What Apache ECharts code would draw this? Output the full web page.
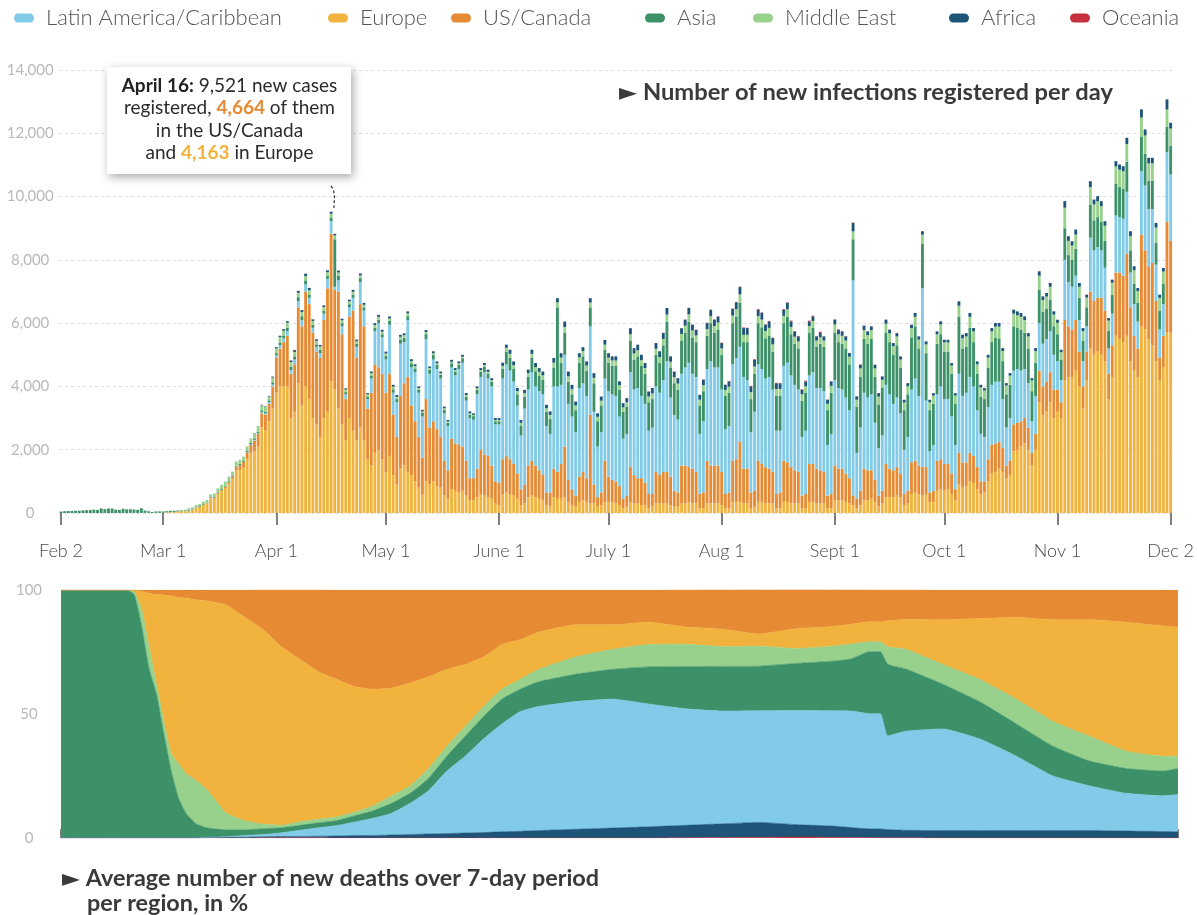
<!DOCTYPE html>
<html><head><meta charset="utf-8">
<script src="https://cdn.jsdelivr.net/npm/echarts@6/dist/echarts.min.js"></script>
<style>html,body{margin:0;padding:0;background:#fff}#c{width:1197px;height:915px}</style>
</head><body><div id="c"></div>
<script>
// ---------- axis ticks ----------
const tickIdx = [0,28,59,89,120,150,181,212,242,273,304];
const tickLabels = ['Feb 2','Mar 1','Apr 1','May 1','June 1','July 1','Aug 1','Sept 1','Oct 1','Nov 1','Dec 2'];

// ---------- daily new deaths per region (Feb 2 .. Dec 2), one line per month ----------
const europe = [
0,0,0,0,0,0,0,0,0,0,0,0,0,0,0,0,0,0,0,1,2,1,2,5,4,1,5,4,
6,20,26,28,45,50,55,75,110,175,190,255,300,460,470,600,700,790,920,1080,1340,1360,1430,1700,1880,1950,2100,2700,2600,2900,3300,
3800,4000,4000,4000,3000,3200,4100,3400,4000,3600,3000,2800,2400,3000,3200,4163,3900,3300,2800,2300,3000,2600,2300,2700,2300,1700,1500,1900,2000,1700,
1300,1800,1200,900,1400,1500,1300,1200,1000,800,600,1000,900,1000,850,800,550,450,750,700,650,700,550,400,400,500,600,550,500,450,300,
250,600,650,600,550,450,250,300,500,550,500,450,400,250,200,500,450,450,500,350,250,200,350,400,350,300,300,200,250,350,
350,350,300,250,150,200,350,300,300,250,250,150,200,300,300,300,300,250,200,200,300,300,350,300,300,150,150,300,300,300,300,
250,150,150,350,350,350,300,300,150,200,350,350,300,300,300,150,150,350,350,300,300,300,150,150,350,350,300,300,300,150,150,
400,400,400,350,300,250,150,250,400,400,450,350,200,300,500,500,500,550,500,250,300,600,650,600,550,600,350,350,700,750,
700,750,600,400,900,800,850,1000,950,750,600,650,1000,1250,1300,1400,1300,1100,1200,1950,2000,2100,2200,2000,1500,2000,3500,3100,3200,3500,3000,
3200,3000,4200,4300,4300,4500,4000,3300,4200,5200,5000,5100,5000,4800,3600,4300,5600,5500,5400,5600,4800,4500,4300,5900,5800,5500,5300,4800,4200,4600,5700,5700];
const usCanada = [
0,0,0,0,0,0,0,0,0,0,0,0,0,0,0,0,0,0,0,0,0,0,0,0,0,0,0,0,
0,5,0,6,4,3,3,2,2,4,7,10,10,13,17,26,30,33,56,77,100,150,180,220,270,340,400,450,510,550,700,
1100,1200,1400,1600,1400,1500,2400,2500,3000,3000,2700,2300,2500,3100,3900,4664,3150,3700,2850,1300,3200,3800,2600,3900,3600,1600,2300,2800,2600,2700,
2500,2600,1900,1500,2300,2600,3000,2200,1900,1600,1150,2600,1800,1900,1800,1600,1100,900,1600,1500,1500,1400,1100,700,700,900,1400,1300,1300,1050,700,
700,1100,1150,1100,1000,800,500,600,1000,1100,1000,900,800,400,450,900,850,1100,1600,700,500,350,800,900,750,2800,600,300,400,1300,
800,700,700,600,300,350,1100,900,800,850,700,450,400,1000,900,1000,1000,900,500,450,1200,1200,1100,1100,1000,450,500,1350,1200,1200,1200,
1050,450,500,1300,1350,1900,1100,1100,500,500,1300,1200,1150,1100,1000,450,500,1300,1250,1150,1050,1000,400,450,1200,1200,1100,1050,1000,400,450,
1100,1000,1000,900,800,300,300,450,1000,950,900,700,350,400,1050,900,850,900,750,350,400,1000,1000,900,900,850,300,350,950,950,
850,800,650,350,1000,800,750,900,850,700,400,350,700,900,900,850,750,400,450,850,850,800,800,700,400,500,1000,900,950,950,900,
700,500,1900,1600,1500,1600,1100,700,900,1800,1700,1700,1800,1600,800,1000,2000,2100,2100,2600,1700,1100,900,2900,2500,2300,2600,1900,700,1000,3500,2900];
const latinAmerica = [
0,0,0,0,0,0,0,0,0,0,0,0,0,0,0,0,0,0,0,0,0,0,0,0,0,0,0,0,
0,0,0,0,0,0,0,0,0,0,0,0,0,0,0,0,0,0,0,0,0,0,5,10,15,20,20,35,35,50,60,
80,110,120,150,120,150,200,200,220,200,150,150,150,200,300,400,100,350,250,150,300,400,350,700,500,300,450,1050,1400,1150,
1050,1550,700,1100,1650,1300,1800,1200,1550,1400,1300,1900,1700,1950,1900,1850,1500,1400,2250,2150,2400,2650,1900,1900,1850,2350,2300,2600,2450,2500,1800,
1850,2550,2900,2800,2600,2150,1700,2400,2400,2800,2500,2500,2550,2100,1850,2600,2700,2500,2900,2400,2300,2000,2800,2800,2600,2800,2300,1600,1900,2600,
2700,2700,2700,2200,1900,1950,3000,2700,2850,2600,2500,2000,2100,2700,2600,2900,3500,2500,2400,2300,2900,3100,3300,3000,3000,1900,2250,2900,3300,3100,3100,
2600,2050,2100,3050,3200,3000,2900,2800,1900,2500,3050,3000,2800,2900,2600,2000,1950,3000,3150,2900,2700,2600,1850,2000,2800,2900,2550,2600,2550,1600,1900,
2700,2550,2500,2400,2150,6800,1450,2000,2400,2300,2400,1800,1500,1750,2500,2350,2100,2200,1900,1400,1700,2300,2600,2200,5650,2100,1300,1450,2100,2300,
2050,2050,1800,1400,2500,2100,2200,2400,2200,1800,1500,1400,1650,1900,1950,1900,1550,1200,1350,1700,1700,1600,1550,1400,1000,1200,1500,1350,1350,1300,1100,
900,700,1900,1400,1350,1400,1000,800,800,1700,1600,1600,1500,1350,800,1000,1800,1750,1800,1950,1100,1000,850,2000,2050,1800,1700,1150,900,1000,2200,2100];
const asia = [
45,57,64,65,73,73,86,89,97,108,97,146,121,143,142,105,98,136,114,118,109,98,150,71,52,29,44,47,
42,33,38,31,30,28,27,30,25,22,25,20,15,20,20,25,25,20,25,30,35,40,40,45,50,50,50,60,55,60,70,
70,80,90,100,100,100,120,120,130,100,100,80,100,100,100,110,1500,150,100,70,100,100,100,120,100,80,90,100,110,100,
110,120,110,100,130,140,120,130,120,100,110,150,130,140,130,120,110,100,130,120,130,140,130,110,110,140,160,170,160,150,100,
100,300,400,400,400,350,300,380,400,450,480,480,470,450,480,600,2500,700,700,700,700,700,800,850,800,600,900,800,850,900,
900,900,950,850,850,850,1000,950,1000,950,950,900,900,1000,950,1100,1250,950,1000,950,1050,1100,1300,1150,1100,900,950,1050,1200,1100,1200,
1100,1050,1050,1300,1300,1400,1100,1200,1050,1200,1300,1320,1270,1300,1200,1100,1100,1350,1450,1300,1300,1300,1150,1200,1350,1400,1300,1400,1400,1100,1300,
1500,1450,1450,1550,1450,1300,1450,1600,1700,1700,1750,1450,1380,1500,1650,1650,1550,1650,1450,1250,1350,1650,1650,1500,1400,1500,1300,1300,1600,1650,
1500,1500,1350,1300,1800,1500,1450,1550,1400,1150,1180,1200,1250,1350,1380,1370,1200,1050,1050,1400,1300,1300,1150,1100,950,1050,1050,1000,950,1000,900,
850,650,1000,850,850,850,700,650,600,1050,950,950,900,850,550,600,1000,950,950,950,700,650,600,1100,1000,900,900,700,600,650,800,900];
const middleEast = [
0,0,0,0,0,0,0,0,0,0,0,0,0,0,0,0,0,2,2,4,4,3,4,4,3,4,4,8,
12,12,11,15,15,17,21,45,43,54,63,75,85,97,113,129,135,147,149,123,150,130,130,125,145,150,150,160,150,120,150,
150,170,150,160,150,140,140,130,140,140,120,110,110,110,110,120,120,100,90,80,90,90,80,90,80,70,80,90,90,80,
80,80,80,70,90,80,90,70,70,50,50,70,50,60,50,50,50,40,50,50,50,50,50,40,40,50,60,60,50,50,40,
40,100,120,130,120,100,100,110,120,130,130,130,130,110,120,150,160,160,180,170,160,150,170,170,160,150,170,140,150,170,
160,170,170,140,140,150,200,190,190,180,180,180,180,190,180,200,220,180,190,190,210,220,230,220,210,180,190,210,220,210,220,
200,190,190,240,240,260,230,230,220,230,220,240,230,250,230,220,220,230,240,230,220,220,200,210,210,220,200,200,200,200,220,
260,250,250,250,240,250,230,270,280,270,280,270,250,260,280,280,270,280,250,240,260,290,300,280,300,280,250,260,300,310,
290,290,260,260,350,320,330,350,340,300,290,270,310,340,360,370,320,280,290,400,400,400,400,380,340,370,450,380,390,400,370,
360,230,650,450,450,450,350,300,310,550,500,500,500,480,330,380,550,550,550,560,450,420,360,600,580,550,550,470,400,380,550,550];
const africa = [
0,0,0,0,0,0,0,0,0,0,0,0,0,0,0,0,0,0,0,0,0,0,0,0,0,0,0,0,
0,0,0,0,0,0,0,0,0,0,0,0,0,0,0,0,0,0,0,0,0,0,0,0,0,10,10,15,15,20,30,
40,40,50,50,50,60,60,60,70,70,50,50,50,50,60,64,50,60,50,40,50,60,50,60,60,40,50,60,60,60,
60,60,60,60,60,60,60,60,60,50,50,60,50,60,60,50,50,50,60,60,60,60,60,60,50,60,60,60,70,60,60,
60,100,100,130,120,100,90,100,110,130,130,120,120,110,110,150,130,140,170,150,140,120,130,120,130,140,150,110,130,150,
140,130,130,120,130,130,190,170,180,170,160,160,170,180,180,190,210,170,180,170,180,190,200,180,180,150,170,190,200,200,190,
170,160,170,210,220,230,215,215,180,210,205,210,200,206,200,180,180,195,196,176,169,161,143,147,146,144,131,136,131,127,137,
148,142,139,131,113,268,102,114,138,119,117,114,107,105,128,112,100,106,98,87,94,110,120,101,104,93,77,77,89,96,
85,85,77,77,139,114,106,120,105,90,81,76,90,105,113,113,91,74,80,125,122,120,114,106,72,91,138,117,112,119,102,
98,79,204,146,138,157,119,95,90,187,156,162,154,141,81,95,170,164,161,198,154,127,101,255,192,175,175,148,100,114,321,183];
const oceania = [
0,0,0,0,0,0,0,0,0,0,0,0,0,0,0,0,0,0,0,0,0,0,0,0,0,0,0,0,
1,0,0,0,0,0,0,1,0,0,0,0,0,1,0,1,0,1,1,0,1,2,1,2,1,2,3,1,3,2,1,
2,3,4,3,3,4,2,6,4,3,2,4,4,3,2,2,3,2,1,2,3,2,1,2,1,2,1,1,2,1,
0,1,1,0,1,0,1,0,1,0,0,1,0,0,0,0,1,0,0,0,0,0,1,0,0,0,0,0,0,1,0,
0,0,0,0,0,0,0,0,0,0,0,0,0,0,0,0,0,0,0,1,0,0,0,0,0,0,0,0,0,0,
0,0,0,0,0,1,0,2,0,1,1,1,2,2,3,4,2,1,1,5,3,5,6,8,4,8,10,13,6,9,6,
13,7,15,12,11,13,17,9,19,21,21,17,14,15,12,17,12,22,17,25,11,16,18,25,24,23,8,41,4,11,5,
12,11,9,11,6,10,7,12,7,6,3,5,5,7,5,6,4,4,2,2,2,2,4,2,1,3,1,1,2,1,
1,1,1,1,1,1,1,1,1,1,1,1,1,2,1,1,1,1,0,1,1,0,1,1,1,0,1,0,0,1,1,
0,0,1,0,1,0,0,0,1,0,0,0,1,0,0,0,0,0,0,0,0,0,0,1,0,0,0,0,0,0,0,0];

// ---------- share of 7-day average deaths (%), sampled on these day indices ----------
const shareDays = [0,10,18,20,22,24,26,28,30,32,34,37,40,45,50,55,60,65,70,75,80,85,90,95,100,105,110,115,120,125,130,140,150,160,170,180,190,200,210,215,220,223,225,230,240,250,260,270,280,290,300,304];
const shareOceania = [0,0,0,0,0,0,0,0,0,0,0,0,0,0,0,0.1,0.1,0.1,0.1,0,0,0,0,0,0,0,0,0,0,0,0,0,0,0,0.1,0.2,0.3,0.4,0.3,0.2,0.15,0.1,0.1,0.1,0,0,0,0,0,0,0,0];
const shareAfrica = [0,0,0,0,0,0,0,0,0,0,0,0,0.2,0.3,0.3,0.4,0.5,0.5,0.6,0.8,1,1,1.2,1.4,1.6,1.8,2,2.2,2.5,2.7,3,3.5,4,4.5,5,5.5,6,5,4.5,4,3.5,3.5,3.3,3,3,3,3,3,3,2.8,2.6,2.5];
const shareLatAm = [0,0,0,0,0,0,0,0,0,0,0,0,0.1,0.2,0.7,0.9,1.5,2.5,3.4,4.2,5.5,7,8.8,12.6,17.4,25.2,31,37.8,43.5,48.3,50,51.5,52,49.5,47,45.5,45,46,46.5,47,46.5,46.5,37.7,40,41,37,30,22,18,15.2,14.4,15];
const shareAsia = [100,100,100,98,85,68,58,42,27,16,10,5.5,3.7,2.8,2.3,2.3,2,2,2,2,2.5,3,4,4,5,6,8,9,10,9,10,11,12,15,17,18,18,19,20,21,25,25,29,25,18,15,13,12,10,10,10,10.5];
const shareMiddleEast = [0,0,0,1,7,9,4,5,7,14,16,17.5,15,6.7,3.7,1.9,1,1.5,1.5,1.5,1.5,2,3,3,4,4,4,4,4,4,5,7,8,9,9,8,8,6,6,6,4,4,7,8,8,9,10,10,10,7,6,5];
const shareEurope = [0,0,0,1,7.5,21.6,36.2,51,63.6,67,70.7,73,76.5,84,82,78.5,72,65.5,59.5,55.5,50.5,47,43.5,41.5,37,31,25,20,18,16,15,13,10,9,7,7,5,8,8,8,8,8,10.5,12,18,24.5,33,41,47,52,52.5,52];
const shareUS = [0,0,0,0,0.5,1.4,1.8,2,2.4,3,3.3,4,4.5,6,11,16,23,28,33,36,39,40,39.5,37.5,35,32,30,27,22,20,17,14,14,13,15,16,18,16,15,14,13,13,12.5,12,12,11.5,11,12,12,13,14.5,15];

// ---------- styling ----------
const FONT = 'Lato, "Noto Sans", "DejaVu Sans", sans-serif';
const COL = {
  'Latin America/Caribbean':'#82cbe8', 'Europe':'#f1b33d', 'US/Canada':'#e68a33',
  'Asia':'#3c9168', 'Middle East':'#97d18c', 'Africa':'#1e5478', 'Oceania':'#c5303f'
};
const legendOrder = ['Latin America/Caribbean','Europe','US/Canada','Asia','Middle East','Africa','Oceania'];
const legendLeft = [14,328,451,645,753,949,1070];
const barStack = [['Europe',europe],['US/Canada',usCanada],['Latin America/Caribbean',latinAmerica],['Asia',asia],['Middle East',middleEast],['Africa',africa],['Oceania',oceania]];
const areaStack = [['Oceania',shareOceania],['Africa',shareAfrica],['Latin America/Caribbean',shareLatAm],['Asia',shareAsia],['Middle East',shareMiddleEast],['Europe',shareEurope],['US/Canada',shareUS]];

const days = europe.map((_, i) => String(i));
const showTick = (i) => tickIdx.indexOf(i) >= 0;

const series = [];
barStack.forEach(([name, arr]) => {
  series.push({
    type:'bar', name, stack:'daily', xAxisIndex:0, yAxisIndex:0, data:arr,
    barWidth:2.85, itemStyle:{color:COL[name]}, emphasis:{disabled:true}, silent:true
  });
});
areaStack.forEach(([name, arr]) => {
  series.push({
    type:'line', name, stack:'share', xAxisIndex:1, yAxisIndex:1,
    data: shareDays.map((d, i) => [String(d), arr[i]]),
    symbol:'none', smooth:0.15, lineStyle:{width:0.6, color:COL[name]},
    areaStyle:{color:COL[name], opacity:1}, emphasis:{disabled:true}, silent:true
  });
});

const capsule = 'path://M4.5,0H15.5A4.5,4.5,0,0,1,15.5,9H4.5A4.5,4.5,0,0,1,4.5,0Z';
const legends = legendOrder.map((name, k) => ({
  data:[{name, icon:capsule, itemStyle:{color:COL[name]}}],
  left:legendLeft[k], top:7, padding:0, itemWidth:20, itemHeight:9,
  selectedMode:false,
  textStyle:{fontFamily:FONT, fontSize:22, color:'#555555', fontWeight:300, padding:[0,0,0,7]}
}));

const option = {
  animation:false,
  backgroundColor:'#ffffff',
  legend: legends,
  grid:[
    {left:59.2, right:17.2, top:70, bottom:402},
    {left:61, right:19, top:590, bottom:77}
  ],
  xAxis:[
    {type:'category', gridIndex:0, data:days, boundaryGap:true,
     axisLine:{show:false},
     axisTick:{show:true, alignWithLabel:true, interval:(i)=>showTick(i), length:12, lineStyle:{color:'#555', width:1.5}},
     axisLabel:{interval:(i)=>showTick(i), formatter:(v)=>tickLabels[tickIdx.indexOf(Number(v))] || '',
       margin:29, fontFamily:FONT, fontSize:18, color:'#4a4a4a', fontWeight:300},
     splitLine:{show:false}},
    {type:'category', gridIndex:1, data:days, boundaryGap:false, position:'top',
     axisLine:{show:false},
     axisTick:{show:true, interval:(i)=>showTick(i), length:9, lineStyle:{color:'#555', width:1.5}},
     axisLabel:{show:false}, splitLine:{show:false}}
  ],
  yAxis:[
    {type:'value', gridIndex:0, min:0, max:14000, interval:2000,
     axisLine:{show:false}, axisTick:{show:false},
     axisLabel:{formatter:(v)=>v.toLocaleString('en-US'), align:'center', margin:29,
       fontFamily:FONT, fontSize:15, color:'#b9b9b9'},
     splitLine:{show:true, lineStyle:{color:'#dcdcdc', type:[3,3], width:1}}},
    {type:'value', gridIndex:1, min:0, max:100, interval:50,
     axisLine:{show:false}, axisTick:{show:false},
     axisLabel:{align:'center', margin:32, fontFamily:FONT, fontSize:15, color:'#b9b9b9'},
     splitLine:{show:false}}
  ],
  series,
  graphic:[
    {type:'rect', shape:{x:107, y:67, width:244, height:107},
     style:{fill:'#ffffff', shadowBlur:9, shadowColor:'rgba(0,0,0,0.35)', shadowOffsetX:2, shadowOffsetY:3}, z:10},
    {type:'text', z:11, style:{
      x:229.5, y:74.5, align:'center', verticalAlign:'top',
      text:'{b|April 16:} 9,521 new cases\nregistered, {o|4,664} of them\nin the US/Canada\nand {y|4,163} in Europe',
      fontFamily:FONT, fontSize:19, fill:'#2b2b2b', lineHeight:22.5,
      rich:{
        b:{fontFamily:FONT, fontSize:19, fontWeight:'bold', fill:'#222', lineHeight:22.5},
        o:{fontFamily:FONT, fontSize:19, fontWeight:'bold', fill:'#e68a33', lineHeight:22.5},
        y:{fontFamily:FONT, fontSize:19, fontWeight:'bold', fill:'#f1b33d', lineHeight:22.5}
      }}},
    {type:'bezierCurve', z:11, shape:{x1:331, y1:186, x2:334, y2:208, cpx1:336, cpy1:192, cpx2:334, cpy2:200},
     style:{stroke:'#333', lineWidth:1.2, lineDash:[3,2], fill:null}},
    {type:'text', z:11, style:{x:619, y:92, verticalAlign:'middle',
      text:'\u25BA Number of new infections registered per day',
      fontFamily:FONT, fontSize:23.7, fontWeight:'bold', fill:'#3a3a3a'}},
    {type:'text', z:11, style:{x:62, y:878, verticalAlign:'middle',
      text:'\u25BA Average number of new deaths over 7-day period',
      fontFamily:FONT, fontSize:23.4, fontWeight:'bold', fill:'#3a3a3a'}},
    {type:'text', z:11, style:{x:87, y:903, verticalAlign:'middle',
      text:'per region, in %',
      fontFamily:FONT, fontSize:23.4, fontWeight:'bold', fill:'#3a3a3a'}}
  ]
};

const chart = echarts.init(document.getElementById('c'), null, {renderer:'canvas', width:1197, height:915});
chart.setOption(option);
</script>
</body></html>
